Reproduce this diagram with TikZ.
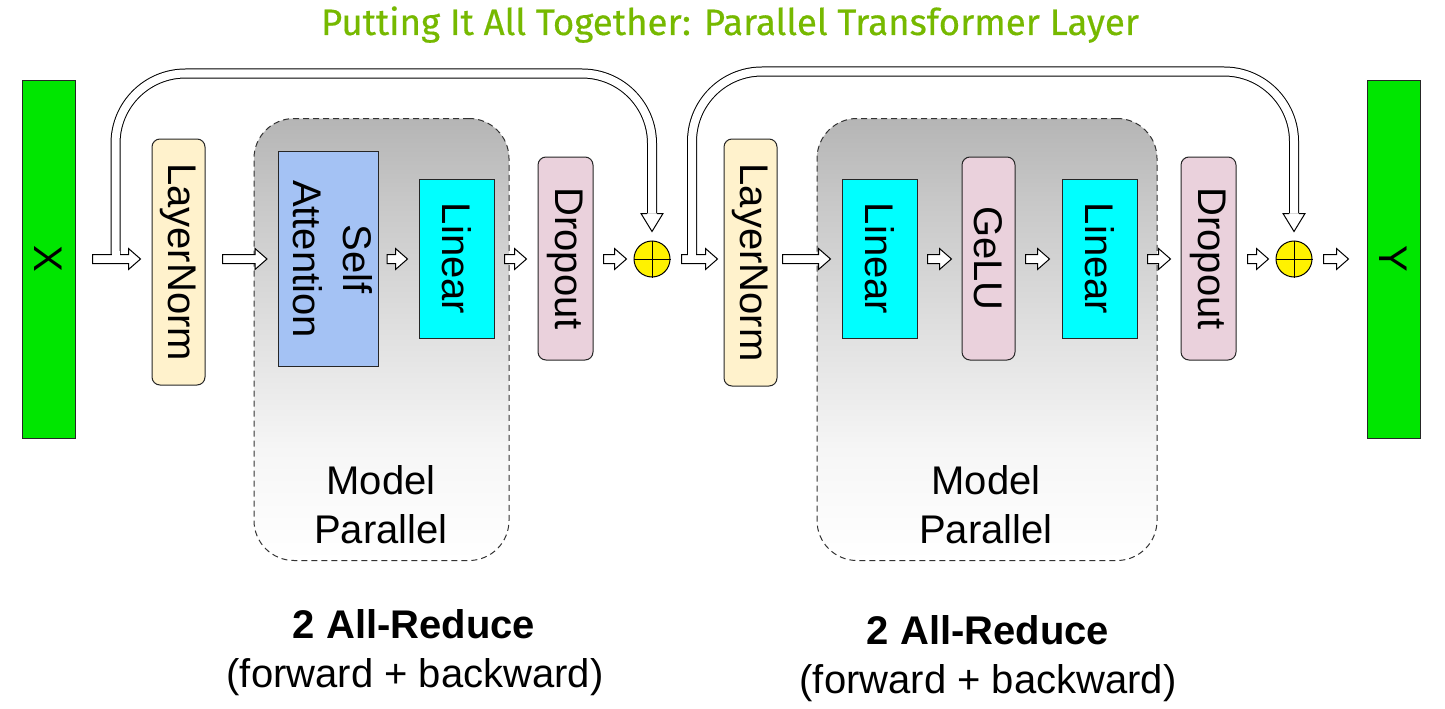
\documentclass[tikz,border=0pt]{standalone}
\usepackage{fontspec}
\setmainfont{Liberation Sans}
\newfontfamily\titlefont[FakeBold=0.4]{Fira Sans}
\usetikzlibrary{calc}
\definecolor{nvgreen}{HTML}{76B900}
\definecolor{xgreen}{HTML}{00E600}
\definecolor{lncream}{HTML}{FFF2CC}
\definecolor{sablue}{HTML}{A4C2F4}
\definecolor{pinkish}{HTML}{EAD1DC}
\definecolor{cyanbox}{HTML}{00FFFF}
\definecolor{mpgray}{HTML}{B5B5B5}
\definecolor{mphigh}{HTML}{C8C8C8}
\definecolor{mpmid}{HTML}{DADADA}
\definecolor{mplow}{HTML}{F6F6F6}
\pgfdeclareverticalshading{mpshade}{100bp}{color(0bp)=(white); color(25bp)=(white); color(37.5bp)=(mplow); color(54.5bp)=(mpmid); color(65.5bp)=(mphigh); color(75bp)=(mpgray); color(100bp)=(mpgray)}
\newcommand\harrow[4]{%
  \draw[arr] let \p1=($(#1.east)+(#2,0)$), \p2=($(#3.west)-(#4,0)$), \p3=(axis) in
   (\x1,\y3-4.5pt) -- (\x2-12pt,\y3-4.5pt) -- (\x2-12pt,\y3-10.5pt) -- (\x2,\y3) --
   (\x2-12pt,\y3+10.5pt) -- (\x2-12pt,\y3+4.5pt) -- (\x1,\y3+4.5pt) -- cycle;}
\newcommand\vhead[1]{%
  \draw[arr] let \p1=($(#1.north)-(0,9)$) in
   (\x1-5pt,\y1+18pt) -- (\x1-11pt,\y1+18pt) -- (\x1,\y1) -- (\x1+11pt,\y1+18pt) -- (\x1+5pt,\y1+18pt);}
\newcommand\rot[1]{\rotatebox{-90}{#1}}
\begin{document}
\begin{tikzpicture}[x=1pt,y=-1pt,
  lab/.style={font=\fontsize{40}{50}\selectfont},
  box/.style={draw=black!85, line width=1pt, inner sep=0pt, lab},
  rbox/.style={box, rounded corners=8pt},
  arr/.style={draw=black, line width=1pt, fill=white, line join=miter},
  tube/.style={draw=black, line width=1pt, double=white, double distance=8pt, rounded corners=70pt},
  mp/.style={draw=black!80, line width=1pt, dash pattern=on 6pt off 4pt, rounded corners=40pt,
             shading=mpshade, inner sep=0pt},
  plus/.style={circle, draw=black, line width=1pt, fill=yellow, minimum size=36pt, inner sep=0pt}
]
\useasboundingbox[fill=white] (0,0) rectangle (1445,709);
\coordinate (axis) at (0,259);

% title
\node[font=\titlefont\fontsize{36.7}{40}\selectfont, text=nvgreen, anchor=base] (title) at (730,35)
  {Putting It All Together: Parallel Transformer Layer};

% model parallel regions
\node[mp, minimum width=255pt, minimum height=442pt] (mp1) at (381.5,339.5) {};
\node[mp, minimum width=340pt, minimum height=442pt] (mp2) at (987,339.5) {};
\node[lab, anchor=base] (mp1a) at (381,494) {Model};
\node[lab, anchor=base] (mp1b) at (381,543) {Parallel};
\node[lab, anchor=base] (mp2a) at (986,494) {Model};
\node[lab, anchor=base] (mp2b) at (986,543) {Parallel};

% blocks
\node[box, fill=xgreen, minimum width=53pt, minimum height=358pt] (X) at (48.5,259) {\rot{X}};
\node[box, fill=xgreen, minimum width=53pt, minimum height=358pt] (Y) at (1393.5,259) {\rot{Y}};
\node[rbox, fill=lncream, minimum width=53pt, minimum height=246pt] (ln1) at (178.5,262) {\rot{LayerNorm}};
\node[box, fill=sablue, minimum width=93pt, minimum height=215pt] (sa) at (328.5,259) {\rot{\begin{tabular}{@{}c@{}}Self\\Attention\end{tabular}}};
\node[box, fill=cyanbox, minimum width=75pt, minimum height=159pt] (lin1) at (456.5,258.5) {\rot{Linear}};
\node[rbox, fill=pinkish, minimum width=55pt, minimum height=203pt] (do1) at (565.5,258.5) {\rot{Dropout}};
\node[plus] (p1) at (652,259) {};
\node[rbox, fill=lncream, minimum width=53pt, minimum height=247pt] (ln2) at (750.5,262.5) {\rot{LayerNorm}};
\node[box, fill=cyanbox, minimum width=75pt, minimum height=159pt] (lin2) at (879.5,258.5) {\rot{Linear}};
\node[rbox, fill=pinkish, minimum width=53pt, minimum height=203pt] (gelu) at (988.5,258.5) {\rot{GeLU}};
\node[box, fill=cyanbox, minimum width=75pt, minimum height=159pt] (lin3) at (1099.5,258.5) {\rot{Linear}};
\node[rbox, fill=pinkish, minimum width=55pt, minimum height=203pt] (do2) at (1208.5,258.5) {\rot{Dropout}};
\node[plus] (p2) at (1294,259) {};
\draw[line width=1pt] (p1.north) -- (p1.south) (p1.west) -- (p1.east);
\draw[line width=1pt] (p2.north) -- (p2.south) (p2.west) -- (p2.east);

% skip connections
\coordinate (s1) at (115.5,257);
\coordinate (s2) at (692,257);
\draw[tube] (s1) |- ($(p1.north)+(0,-167)$) -- ($(p1.north)-(0,27)$);
\draw[tube] (s2) |- ($(p2.north)+(0,-169)$) -- ($(p2.north)-(0,27)$);
\vhead{p1}
\vhead{p2}

% arrows
\harrow{X}{17}{ln1}{11}
\harrow{ln1}{17}{sa}{11}
\harrow{sa}{8}{lin1}{11}
\harrow{lin1}{10}{do1}{11}
\harrow{do1}{10}{p1}{7}
\harrow{p1}{11}{ln2}{6}
\harrow{ln2}{5}{lin2}{11}
\harrow{lin2}{10}{gelu}{10}
\harrow{gelu}{10}{lin3}{12}
\harrow{lin3}{10}{do2}{10}
\harrow{do2}{11}{p2}{7}
\harrow{p2}{11}{Y}{18}
% open the joins of the skip tubes into the arrows
\fill[white] ($(s1)+(-4,-6)$) rectangle ($(s1)+(4,-1)$);
\fill[white] ($(s2)+(-4,-6)$) rectangle ($(s2)+(4,-1)$);

% bottom notes
\node[lab, font=\fontsize{40}{50}\selectfont\bfseries, anchor=base] (ar1) at (414,638) {2 All-Reduce};
\node[lab, anchor=base] (fb1) at (415,687) {(forward + backward)};
\node[lab, font=\fontsize{40}{50}\selectfont\bfseries, anchor=base] (ar2) at (988,644) {2 All-Reduce};
\node[lab, anchor=base] (fb2) at (988,693) {(forward + backward)};
\end{tikzpicture}
\end{document}
